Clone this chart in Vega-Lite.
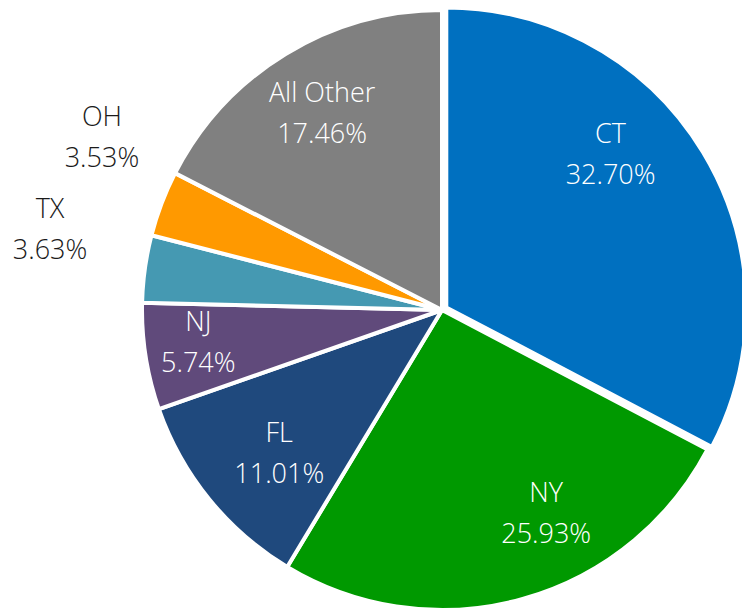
{
  "$schema": "https://vega.github.io/schema/vega-lite/v6.json",
  "width": 600,
  "height": 600,
  "autosize": {"type": "none"},
  "padding": {"left": 142, "top": 10, "right": 0, "bottom": 0},
  "background": "white",
  "config": {"view": {"stroke": null}},
  "data": {
    "values": [
      {"state": "CT", "share": 0.3270, "rank": 1},
      {"state": "NY", "share": 0.2593, "rank": 2},
      {"state": "FL", "share": 0.1101, "rank": 3},
      {"state": "NJ", "share": 0.0574, "rank": 4},
      {"state": "TX", "share": 0.0363, "rank": 5},
      {"state": "OH", "share": 0.0353, "rank": 6},
      {"state": "All Other", "share": 0.1746, "rank": 7}
    ]
  },
  "encoding": {
    "theta": {"field": "share", "type": "quantitative", "stack": true},
    "order": {"field": "rank", "type": "quantitative"}
  },
  "layer": [
    {
      "mark": {"type": "arc", "stroke": "white", "strokeWidth": 4},
      "encoding": {
        "color": {
          "field": "state",
          "type": "nominal",
          "legend": null,
          "scale": {
            "domain": ["CT", "NY", "FL", "NJ", "TX", "OH", "All Other"],
            "range": ["#0070C0", "#009900", "#1F497D", "#604A7B", "#4599B2", "#FF9900", "#808080"]
          }
        },
        "opacity": {"condition": {"test": "datum.state === 'CT'", "value": 0}, "value": 1}
      }
    },
    {
      "mark": {"type": "arc", "stroke": "white", "strokeWidth": 4, "xOffset": 4.3, "yOffset": -2.6},
      "encoding": {
        "color": {"field": "state", "type": "nominal", "legend": null},
        "opacity": {"condition": {"test": "datum.state === 'CT'", "value": 1}, "value": 0}
      }
    },
    {
      "mark": {"type": "text", "radius": 230, "dy": -20, "font": "Open Sans", "fontWeight": 300, "fontSize": 27, "fill": "white", "baseline": "middle"},
      "encoding": {
        "text": {"condition": {"test": "datum.state === 'All Other'", "field": "state"}, "value": ""}
      }
    },
    {
      "mark": {"type": "text", "radius": 230, "dy": 21, "font": "Open Sans", "fontWeight": 300, "fontSize": 27, "fill": "white", "baseline": "middle"},
      "encoding": {
        "text": {"condition": {"test": "datum.state === 'All Other'", "field": "share", "format": ".2%"}, "value": ""}
      }
    },
    {
      "mark": {"type": "text", "radius": 217, "thetaOffset": -0.04, "dy": -20, "font": "Open Sans", "fontWeight": 300, "fontSize": 27, "fill": "white", "baseline": "middle"},
      "encoding": {
        "text": {"condition": {"test": "datum.state === 'FL'", "field": "state"}, "value": ""}
      }
    },
    {
      "mark": {"type": "text", "radius": 217, "thetaOffset": -0.04, "dy": 21, "font": "Open Sans", "fontWeight": 300, "fontSize": 27, "fill": "white", "baseline": "middle"},
      "encoding": {
        "text": {"condition": {"test": "datum.state === 'FL'", "field": "share", "format": ".2%"}, "value": ""}
      }
    },
    {
      "mark": {"type": "text", "radius": 246, "thetaOffset": 0.02, "dy": -20, "font": "Open Sans", "fontWeight": 300, "fontSize": 27, "fill": "white", "baseline": "middle"},
      "encoding": {
        "text": {"condition": {"test": "datum.state === 'NJ'", "field": "state"}, "value": ""}
      }
    },
    {
      "mark": {"type": "text", "radius": 246, "thetaOffset": 0.02, "dy": 21, "font": "Open Sans", "fontWeight": 300, "fontSize": 27, "fill": "white", "baseline": "middle"},
      "encoding": {
        "text": {"condition": {"test": "datum.state === 'NJ'", "field": "share", "format": ".2%"}, "value": ""}
      }
    },
    {
      "mark": {"type": "text", "radius": 229, "thetaOffset": -0.2, "dy": -20, "font": "Open Sans", "fontWeight": 300, "fontSize": 27, "fill": "white", "baseline": "middle"},
      "encoding": {
        "text": {"condition": {"test": "datum.state === 'CT' || datum.state === 'NY'", "field": "state"}, "value": ""}
      }
    },
    {
      "mark": {"type": "text", "radius": 229, "thetaOffset": -0.2, "dy": 21, "font": "Open Sans", "fontWeight": 300, "fontSize": 27, "fill": "white", "baseline": "middle"},
      "encoding": {
        "text": {"condition": {"test": "datum.state === 'CT' || datum.state === 'NY'", "field": "share", "format": ".2%"}, "value": ""}
      }
    },
    {
      "mark": {"type": "text", "radius": 400, "thetaOffset": 0.063, "dy": -20, "font": "Open Sans", "fontWeight": 300, "fontSize": 27, "fill": "#1a1a1a", "baseline": "middle"},
      "encoding": {
        "text": {"condition": {"test": "datum.state === 'TX'", "field": "state"}, "value": ""}
      }
    },
    {
      "mark": {"type": "text", "radius": 400, "thetaOffset": 0.063, "dy": 21, "font": "Open Sans", "fontWeight": 300, "fontSize": 27, "fill": "#1a1a1a", "baseline": "middle"},
      "encoding": {
        "text": {"condition": {"test": "datum.state === 'TX'", "field": "share", "format": ".2%"}, "value": ""}
      }
    },
    {
      "mark": {"type": "text", "radius": 381, "thetaOffset": 0.105, "dy": -20, "font": "Open Sans", "fontWeight": 300, "fontSize": 27, "fill": "#1a1a1a", "baseline": "middle"},
      "encoding": {
        "text": {"condition": {"test": "datum.state === 'OH'", "field": "state"}, "value": ""}
      }
    },
    {
      "mark": {"type": "text", "radius": 381, "thetaOffset": 0.105, "dy": 21, "font": "Open Sans", "fontWeight": 300, "fontSize": 27, "fill": "#1a1a1a", "baseline": "middle"},
      "encoding": {
        "text": {"condition": {"test": "datum.state === 'OH'", "field": "share", "format": ".2%"}, "value": ""}
      }
    }
  ]
}
